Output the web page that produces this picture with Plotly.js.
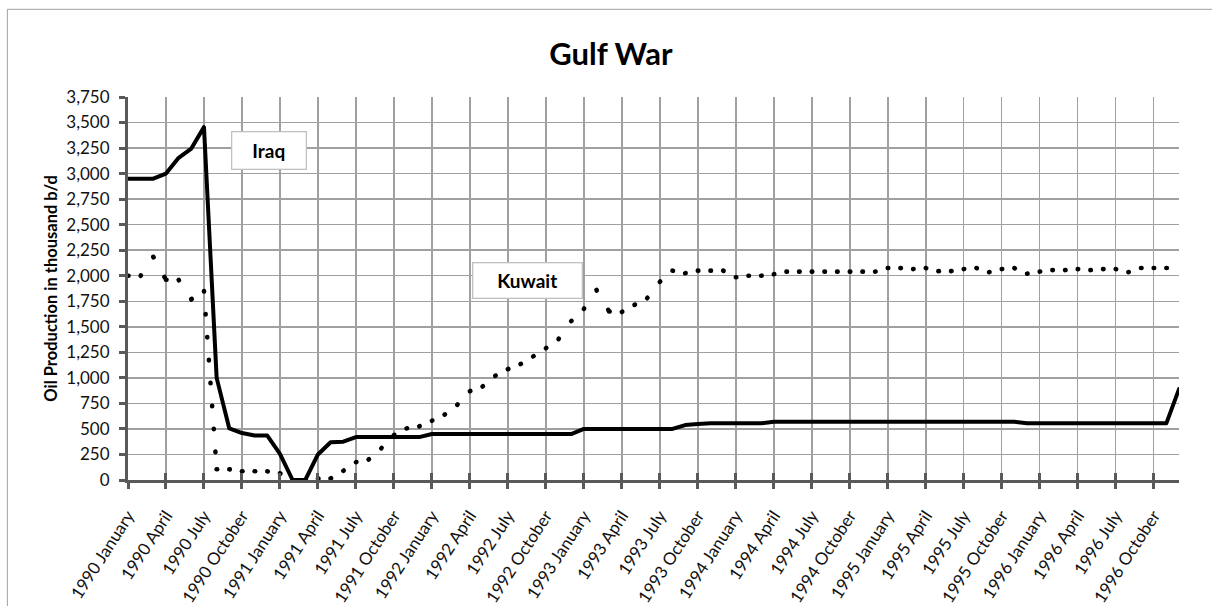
<!DOCTYPE html>
<html>
<head>
<meta charset="utf-8">
<script src="https://cdn.plot.ly/plotly-3.0.1.min.js"></script>
<style>
  html, body { margin: 0; padding: 0; background: #fff; }
  #chart { width: 1212px; height: 606px; }
  .scatterlayer path.js-line { stroke-linecap: round !important; stroke-linejoin: round !important; }
</style>
</head>
<body>
<div id="chart"></div>
<script>
// Quarterly tick labels (every 3rd month starting 1990 January)
const tickLabels = [
  "1990 January", "1990 April", "1990 July", "1990 October",
  "1991 January", "1991 April", "1991 July", "1991 October",
  "1992 January", "1992 April", "1992 July", "1992 October",
  "1993 January", "1993 April", "1993 July", "1993 October",
  "1994 January", "1994 April", "1994 July", "1994 October",
  "1995 January", "1995 April", "1995 July", "1995 October",
  "1996 January", "1996 April", "1996 July", "1996 October"
];

// Monthly oil production, thousand b/d, Jan 1990 .. Dec 1996
const iraq = [
  2950, 2950, 2950, 3000, 3155, 3245, 3455, 1000, 505, 460, 435, 435,
  255, 0, 0, 250, 370, 375, 420, 420, 420, 420, 420, 420,
  450, 450, 450, 450, 450, 450, 450, 450, 450, 450, 450, 450,
  500, 500, 500, 500, 500, 500, 500, 500, 538, 548, 555, 555,
  555, 555, 555, 570, 570, 570, 570, 570, 570, 570, 570, 570,
  570, 570, 570, 570, 570, 570, 570, 570, 570, 570, 570, 555,
  555, 555, 555, 555, 555, 555, 555, 555, 555, 555, 555, 890
];

const kuwait = [
  2000, 2000, 2185, 1960, 1960, 1770, 1850, 105, 105, 85, 85, 85,
  65, 0, 0, 15, 15, 90, 175, 200, 310, 440, 505, 525,
  580, 640, 735, 870, 915, 1020, 1085, 1135, 1210, 1290, 1380, 1555,
  1675, 1860, 1650, 1645, 1715, 1780, 1940, 2050, 2025, 2050, 2050, 2050,
  1985, 2000, 2000, 2015, 2040, 2040, 2040, 2040, 2040, 2040, 2040, 2040,
  2075, 2075, 2065, 2075, 2045, 2045, 2065, 2075, 2035, 2065, 2075, 2020,
  2040, 2055, 2055, 2065, 2055, 2065, 2065, 2035, 2075, 2075, 2075, 2075
];

const monthIndex = iraq.map((_, i) => i);
const tickVals = tickLabels.map((_, i) => i * 3);

// Excel-style round-dot line: dash pattern restarts on each month-to-month segment
const kx = [], ky = [];
for (let i = 0; i < kuwait.length - 1; i++) {
  kx.push(monthIndex[i], monthIndex[i + 1], null);
  ky.push(kuwait[i], kuwait[i + 1], null);
}

const FONT = 'Lato, "Open Sans", sans-serif';
const AXIS = '#595959';
const GRID = '#a0a0a0';

const traces = [
  {
    x: monthIndex, y: iraq, type: 'scatter', mode: 'lines', name: 'Iraq',
    line: { color: '#000', width: 4, simplify: false },
    hoverinfo: 'skip'
  },
  {
    x: kx, y: ky, type: 'scatter', mode: 'lines', name: 'Kuwait',
    connectgaps: false,
    line: { color: '#000', width: 4.6, dash: '0.5px,22.5px', simplify: false },
    hoverinfo: 'skip'
  },
  {
    x: monthIndex, y: iraq, type: 'scatter', mode: 'none', xaxis: 'x2',
    hoverinfo: 'skip', showlegend: false
  }
];

const layout = {
  width: 1212, height: 606,
  margin: { l: 128, r: 33, t: 97, b: 126 },
  paper_bgcolor: '#fff', plot_bgcolor: '#fff',
  showlegend: false, hovermode: false,
  font: { family: FONT, color: '#111' },
  title: {
    text: 'Gulf War',
    font: { family: FONT, size: 31, weight: 'bold', color: '#000' },
    x: 0.504, xanchor: 'center', y: 0.91, yanchor: 'middle', xref: 'container', yref: 'container'
  },
  xaxis: {
    range: [0, 83], tickmode: 'array', tickvals: tickVals, ticktext: tickLabels,
    tickangle: -57, tickfont: { family: FONT, size: 17, color: '#111' },
    ticklabelstandoff: 10,
    showgrid: true, gridcolor: GRID, gridwidth: 1.5,
    showline: true, linecolor: AXIS, linewidth: 3,
    ticks: 'outside', ticklen: 6, tickwidth: 3, tickcolor: AXIS,
    zeroline: false, fixedrange: true
  },
  xaxis2: {
    overlaying: 'x', anchor: 'y', side: 'bottom',
    range: [0, 83], tickmode: 'array', tickvals: tickVals,
    showticklabels: false, showgrid: false, showline: false, zeroline: false,
    ticks: 'inside', ticklen: 7, tickwidth: 3, tickcolor: AXIS, fixedrange: true
  },
  yaxis: {
    range: [0, 3750], tick0: 0, dtick: 250, tickformat: ',d',
    tickfont: { family: FONT, size: 17, color: '#111' },
    showgrid: true, gridcolor: GRID, gridwidth: 1.5,
    showline: true, linecolor: AXIS, linewidth: 3,
    ticks: 'outside', ticklen: 6, tickwidth: 3, tickcolor: AXIS,
    ticklabelstandoff: 6,
    zeroline: false, fixedrange: true,
    title: {
      text: 'Oil Production in thousand b/d',
      font: { family: FONT, size: 16.5, weight: 'bold', color: '#000' },
      standoff: 5
    }
  },
  annotations: [
    {
      x: 11.14, y: 3224, xref: 'x', yref: 'y', text: '<b>Iraq</b>', showarrow: false,
      xanchor: 'center', yanchor: 'middle', width: 73, height: 36,
      bgcolor: '#fff', bordercolor: '#c0c0c0', borderwidth: 1.3, borderpad: 0,
      font: { family: FONT, size: 19, color: '#000' }
    },
    {
      x: 31.54, y: 1952, xref: 'x', yref: 'y', text: '<b>Kuwait</b>', showarrow: false,
      xanchor: 'center', yanchor: 'middle', width: 108, height: 34,
      bgcolor: '#fff', bordercolor: '#c0c0c0', borderwidth: 1.3, borderpad: 0,
      font: { family: FONT, size: 19, color: '#000' }
    }
  ],
  shapes: [
    {
      type: 'rect', xref: 'paper', yref: 'paper',
      x0: -0.1148, x1: 1.04, y0: -0.36, y1: 1.2289,
      line: { color: '#a0a0a0', width: 1 }, layer: 'below'
    }
  ]
};

Plotly.newPlot('chart', traces, layout, { staticPlot: true, displayModeBar: false });
</script>
</body>
</html>
